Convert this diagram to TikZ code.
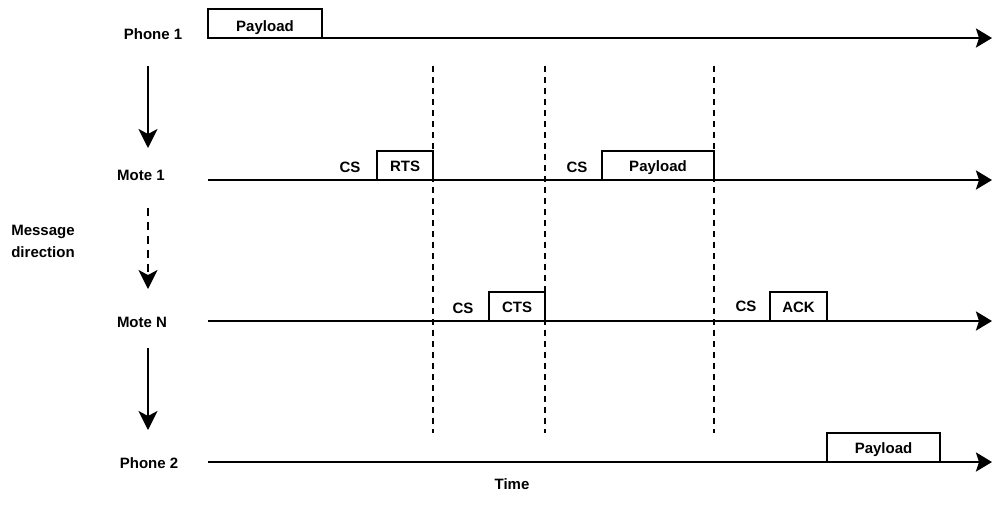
\documentclass[tikz,border=0pt]{standalone}
\usepackage{fontspec}
\setmainfont{Liberation Sans}
\usetikzlibrary{arrows.meta}
\begin{document}
\begin{tikzpicture}[x=1pt,y=-1pt,
  every node/.style={font=\fontsize{15}{18}\selectfont\bfseries, inner sep=0pt},
  timeline/.style={line width=2.6pt, -{Stealth[length=16pt,width=19pt,inset=3pt]}},
  flow/.style={line width=2pt, -{Stealth[length=19pt,width=19pt,inset=5pt]}},
  slot/.style={line width=1.8pt, dash pattern=on 6pt off 5pt},
  frame/.style={draw, line width=2.4pt, outer sep=0pt, anchor=south west, text height=20pt, text depth=9pt},
  lbl/.style={anchor=base}]
\useasboundingbox (0,0) rectangle (992,520);

% timeline end points
\coordinate (p1s) at (208,38);  \coordinate (p1e) at (992,38);
\coordinate (m1s) at (208,180); \coordinate (m1e) at (992,180);
\coordinate (mns) at (208,321); \coordinate (mne) at (992,321);
\coordinate (p2s) at (208,462); \coordinate (p2e) at (992,462);

% row labels
\node[lbl] (lp1) at (153,39) {Phone 1};
\node[lbl] (lm1) at (141,180) {Mote 1};
\node[lbl] (lmn) at (142,327) {Mote N};
\node[lbl] (lp2) at (149,468) {Phone 2};
\node[align=center, font=\fontsize{15}{22}\selectfont\bfseries] (dir) at (43,241) {Message\\direction};
\node[lbl] (time) at (512,489) {Time};

% frames on the timelines
\node[frame, minimum width=114pt, text height=22pt, text depth=7pt] (pay1) at (208,38) {Payload};
\node[frame, minimum width=56pt]  (rts)  at (377,180) {RTS};
\node[frame, minimum width=112pt] (pay2) at (602,180) {Payload};
\node[frame, minimum width=56pt]  (cts)  at (489,321) {CTS};
\node[frame, minimum width=57pt]  (ack)  at (770,321) {ACK};
\node[frame, minimum width=113pt] (pay3) at (827,462) {Payload};

% carrier sense labels
\node[lbl] (cs1) at (350,172) {CS};
\node[lbl] (cs2) at (577,172) {CS};
\node[lbl] (cs3) at (463,313) {CS};
\node[lbl] (cs4) at (746,311) {CS};

% timelines
\draw[timeline] (p1s) -- (p1e);
\draw[timeline] (m1s) -- (m1e);
\draw[timeline] (mns) -- (mne);
\draw[timeline] (p2s) -- (p2e);

% slot boundaries
\coordinate (d1t) at (433,66);  \coordinate (d1b) at (433,433);
\coordinate (d2t) at (545,66);  \coordinate (d2b) at (545,433);
\coordinate (d3t) at (714,66);  \coordinate (d3b) at (714,433);
\draw[slot] (d1t) -- (d1b);
\draw[slot] (d2t) -- (d2b);
\draw[slot] (d3t) -- (d3b);

% message direction
\coordinate (a1t) at (148,66);  \coordinate (a1b) at (148,148);
\coordinate (a2t) at (148,208); \coordinate (a2b) at (148,289);
\coordinate (a3t) at (148,348); \coordinate (a3b) at (148,430);
\draw[flow] (a1t) -- (a1b);
\draw[flow, dash pattern=on 8pt off 6pt] (a2t) -- (a2b);
\draw[flow] (a3t) -- (a3b);
\end{tikzpicture}
\end{document}
